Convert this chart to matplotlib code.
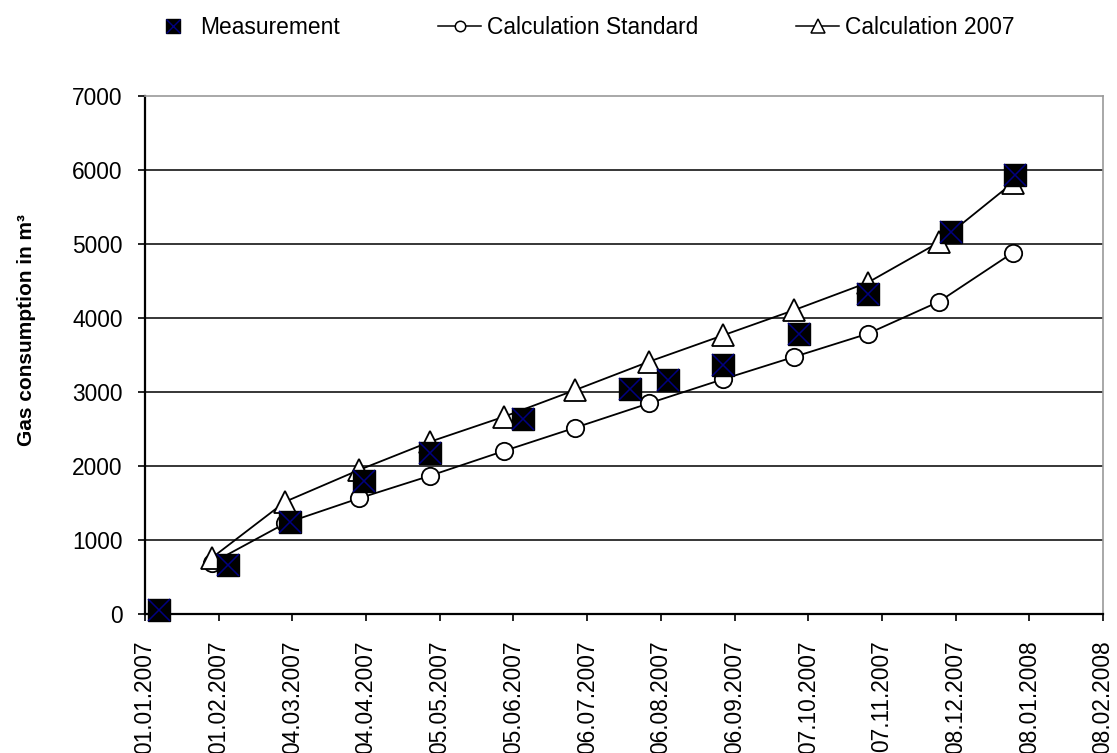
import matplotlib
matplotlib.use('Agg')
import matplotlib.pyplot as plt
import matplotlib.dates as mdates
from matplotlib.lines import Line2D
import datetime as dt

plt.rcParams['font.family'] = ['Liberation Sans', 'DejaVu Sans']

# ---- data ----
meas_dates = ['2007-01-07', '2007-02-05', '2007-03-03', '2007-04-03', '2007-05-01',
              '2007-06-09', '2007-07-24', '2007-08-09', '2007-09-01', '2007-10-03',
              '2007-11-01', '2007-12-06', '2008-01-02']
meas_values = [60, 666, 1243, 1806, 2175, 2645, 3040, 3170, 3375, 3791, 4324, 5170, 5942]

calc_dates = ['2007-01-29', '2007-03-01', '2007-04-01', '2007-05-01', '2007-06-01',
              '2007-07-01', '2007-08-01', '2007-09-01', '2007-10-01', '2007-11-01',
              '2007-12-01', '2008-01-01']
calc_standard = [690, 1230, 1567, 1873, 2207, 2522, 2851, 3175, 3478, 3791, 4225, 4885]
calc_2007 = [760, 1522, 1950, 2333, 2670, 3031, 3414, 3768, 4110, 4482, 5027, 5830]

x_tick_labels = ['01.01.2007', '01.02.2007', '04.03.2007', '04.04.2007', '05.05.2007',
                 '05.06.2007', '06.07.2007', '06.08.2007', '06.09.2007', '07.10.2007',
                 '07.11.2007', '08.12.2007', '08.01.2008', '08.02.2008']
y_ticks = [0, 1000, 2000, 3000, 4000, 5000, 6000, 7000]

series_labels = ['Measurement', 'Calculation Standard', 'Calculation 2007']
y_label = 'Gas consumption in m³'

# ---- conversions ----
to_date = lambda s: dt.datetime.strptime(s, '%Y-%m-%d')
md = [to_date(s) for s in meas_dates]
cd = [to_date(s) for s in calc_dates]
xt = [dt.datetime.strptime(s, '%d.%m.%Y') for s in x_tick_labels]

FS = 16.4
W, H = 1117, 753
fig = plt.figure(figsize=(W / 100, H / 100), dpi=100)
ax = fig.add_axes([145 / W, 1 - 614.3 / H, (1103 - 145) / W, (614.3 - 96.3) / H])

ax.plot(cd, calc_standard, color='black', lw=1.3, marker='o', ms=12.5,
        mfc='white', mec='black', mew=1.3, zorder=3)
ax.plot(cd, calc_2007, color='black', lw=1.3, marker='^', ms=15.5,
        mfc='white', mec='black', mew=1.3, zorder=4)
ax.plot(md, meas_values, ls='none', marker='s', ms=15.5, mfc='black',
        mec='black', mew=1, zorder=5, clip_on=False)
ax.plot(md, meas_values, ls='none', marker='x', ms=15.5, color='#000080',
        mew=1.1, zorder=6, clip_on=False)

ax.set_xlim(xt[0], xt[-1])
ax.set_ylim(y_ticks[0], y_ticks[-1])
ax.set_xticks(xt)
ax.set_xticklabels(x_tick_labels, rotation=90, va='top', ha='center')
ax.set_yticks(y_ticks)
ax.set_yticklabels([str(v) for v in y_ticks])

ax.tick_params(axis='x', length=5, width=1.2, pad=14, labelsize=FS, color='black')
ax.tick_params(axis='y', length=5, width=1.2, pad=11, labelsize=FS, color='black')

ax.set_axisbelow(True)
ax.yaxis.grid(True, color='black', lw=1.1)
ax.xaxis.grid(False)
gl = ax.yaxis.get_gridlines()
gl[0].set_visible(False)
gl[-1].set_visible(False)

for s in ['left', 'bottom']:
    ax.spines[s].set_color('black')
    ax.spines[s].set_linewidth(1.6)
for s in ['top', 'right']:
    ax.spines[s].set_color('#999999')
    ax.spines[s].set_linewidth(1.2)

fig.text(27 / W, 1 - 330 / H, y_label, rotation=90, ha='center', va='center',
         fontsize=15, fontweight='bold')

# ---- legend ----
h_meas = (Line2D([], [], ls='none', marker='s', ms=10, mfc='black', mec='black'),
          Line2D([], [], ls='none', marker='x', ms=10, color='#000080', mew=1))
h_std = Line2D([], [], color='black', lw=1.1, marker='o', ms=7.5, mfc='white',
               mec='black', mew=1.1)
h_2007 = Line2D([], [], color='black', lw=1.1, marker='^', ms=10, mfc='white',
                mec='black', mew=1.1)
fig.legend([h_meas, h_std, h_2007], series_labels, ncol=3, loc='center',
           bbox_to_anchor=(583 / W, 1 - 27 / H), frameon=False, fontsize=FS,
           handlelength=1.9, handletextpad=0.25, columnspacing=4.3,
           borderpad=0, borderaxespad=0)

fig.savefig('out.png', dpi=100)
